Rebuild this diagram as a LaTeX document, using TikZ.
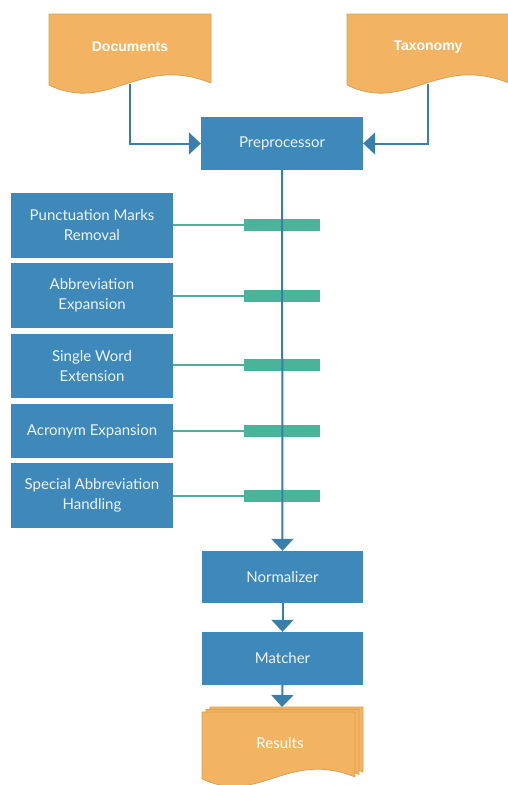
\documentclass[tikz,border=0pt]{standalone}
\usepackage{fontspec}
\setmainfont{Lato}
\newfontfamily\helv{Liberation Sans}
\usetikzlibrary{arrows.meta}
\definecolor{boxblue}{HTML}{3E89B9}
\definecolor{lineblue}{HTML}{3A7EAC}
\definecolor{docorange}{HTML}{F2B462}
\definecolor{docedge}{HTML}{D9A050}
\definecolor{barg}{HTML}{4AB49A}
\definecolor{txtw}{HTML}{EEF3F7}
\tikzset{
  procbox/.style={rectangle, fill=boxblue, text=txtw, minimum width=162pt, align=center, inner sep=0pt, font=\fontsize{15}{20}\selectfont},
  greenbar/.style={rectangle, fill=barg, minimum width=76pt, minimum height=12pt, inner sep=0pt},
  thinlink/.style={draw=barg!85!gray, line width=1.2pt},
  flow/.style={draw=lineblue, line width=2pt},
  flowarrow/.style={flow, -{Triangle[length=12pt,width=22pt]}},
  docfill/.style={fill=docorange, draw=docedge, line width=0.8pt},
  doclabel/.style={text=white, font=\helv\bfseries\fontsize{14}{16}\selectfont},
}
\newcommand{\docpath}{(0,0) -- (162,0) -- (162,69) .. controls (90,40) and (60,100) .. (0,71) -- cycle}
\begin{document}
\begin{tikzpicture}[x=1pt,y=-1pt]
\useasboundingbox (0,0) rectangle (508,785);
% input documents
\begin{scope}[shift={(49,14)}]
  \path[docfill] \docpath;
\end{scope}
\begin{scope}[shift={(347,14)}]
  \path[docfill] \docpath;
\end{scope}
\node[doclabel] (docs) at (130,47) {Documents};
\node[doclabel] (tax) at (428,47) {Taxonomy};
\coordinate (docout) at (130,84);
\coordinate (taxout) at (428,84);

\node[procbox, minimum height=53pt] (pre) at (282,143.5) {Preprocessor};

\node[procbox, minimum height=65pt] (p1) at (92,225.5) {Punctuation Marks\\Removal};
\node[procbox, minimum height=65pt] (p2) at (92,295.5) {Abbreviation\\Expansion};
\node[procbox, minimum height=64pt] (p3) at (92,366) {Single Word\\Extension};
\node[procbox, minimum height=54pt] (p4) at (92,431) {Acronym Expansion};
\node[procbox, minimum height=65pt] (p5) at (92,495.5) {Special Abbreviation\\Handling};

\node[greenbar] (b1) at (282,225) {};
\node[greenbar] (b2) at (282,296) {};
\node[greenbar] (b3) at (282,365) {};
\node[greenbar] (b4) at (282,431) {};
\node[greenbar] (b5) at (282,496) {};

\foreach \i in {1,...,5} { \draw[thinlink] (p\i.east |- b\i) -- (b\i.west); }

\node[procbox, minimum width=161pt, minimum height=52pt] (norm) at (282.5,577) {Normalizer};
\node[procbox, minimum width=161pt, minimum height=53pt] (match) at (282.5,658.5) {Matcher};

% results (stacked documents)
\foreach \dx/\dy in {8/-5, 4/-2.5, 0/0} {
  \begin{scope}[shift={(202+\dx,712+\dy)}, xscale=0.944, yscale=0.94]
    \path[docfill] \docpath;
  \end{scope}
}
\node[text=white, font=\fontsize{15}{16}\selectfont] (res) at (280,743) {Results};
\coordinate (restop) at (282,707);

% connectors
\draw[flowarrow] (docout) |- (pre.west);
\draw[flowarrow] (taxout) |- (pre.east);
\draw[flowarrow] (pre.south) -- (norm.north);
\draw[flowarrow] (norm.south) -- (match.north);
\draw[flowarrow] (match.south) -- (restop);
\end{tikzpicture}
\end{document}
